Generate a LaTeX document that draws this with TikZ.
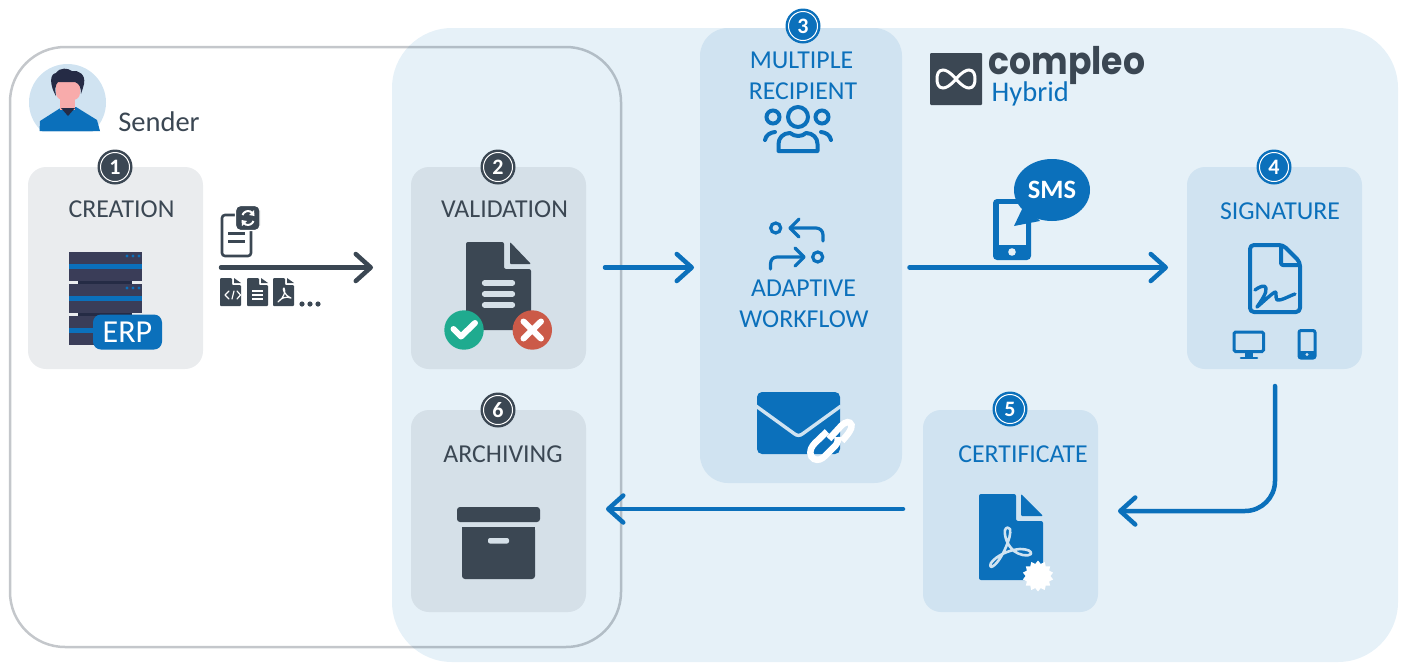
\documentclass[tikz,border=0pt]{standalone}
\usepackage{fontspec}
\setmainfont{Carlito}
\newfontfamily\logofont{Poppins}
\newfontfamily\hybfont{Carlito}
\usetikzlibrary{arrows.meta,shapes.geometric}
\definecolor{bgblue}{HTML}{E6F1F8}
\definecolor{panelblue}{HTML}{D0E3F1}
\definecolor{panelgrey}{HTML}{EAECEE}
\definecolor{paneldark}{HTML}{D5E0E8}
\definecolor{inkdark}{HTML}{3B4753}
\definecolor{inkblue}{HTML}{0B70BB}
\definecolor{servercol}{HTML}{3A3D58}
\definecolor{hair}{HTML}{252B45}
\definecolor{skin}{HTML}{F8ABAB}
\definecolor{okgreen}{HTML}{1FAB8F}
\definecolor{badred}{HTML}{CB5A48}
\tikzset{
  panel/.style={rounded corners=18pt,inner sep=0pt,draw=none,minimum width=175pt,minimum height=202pt},
  lbl/.style={inner sep=0pt,font=\fontsize{25.8}{30}\selectfont},
  flow/.style={line width=4.5pt,line cap=round,-{Straight Barb[length=15pt,width=27pt,round,line width=4.5pt]}},
  stroke/.style={line cap=round,line join=round},
  badgeouter/.style={circle,minimum size=35pt,inner sep=0pt,text=white,font=\fontsize{22}{24}\selectfont\bfseries},
  ring/.style={draw=white,line width=1pt}
}
\newcommand{\badge}[5]{% name, x, y, colour, digit
  \node[badgeouter,fill=#4] (#1) at (#2,#3) {#5};
  \draw[ring] (#2,#3) circle[radius=14.5];
}
\begin{document}
\begin{tikzpicture}[x=1pt,y=-1pt]
\useasboundingbox (0,0) rectangle (1401,662);
% backgrounds
\fill[bgblue,rounded corners=60pt] (392,28) rectangle (1398,662);
\draw[inkdark,opacity=.3,line width=2.5pt,rounded corners=55pt] (10,47) rectangle (621,647);
% panels
\node[panel,fill=panelgrey] (creation) at (115.5,268) {};
\node[panel,fill=paneldark] (validation) at (498.5,268) {};
\node[panel,fill=paneldark] (archiving) at (498.5,511) {};
\node[panel,fill=panelblue] (signature) at (1274.5,268) {};
\node[panel,fill=panelblue] (certificate) at (1010.5,511) {};
\node[panel,fill=panelblue,minimum width=202pt,minimum height=455pt,rounded corners=28pt] (multi) at (801,255.5) {};
% badges
\badge{b1}{115}{167}{inkdark}{1}
\badge{b2}{498}{167}{inkdark}{2}
\badge{b3}{803}{26}{inkblue}{3}
\badge{b4}{1274}{167}{inkblue}{4}
\badge{b5}{1010}{409}{inkblue}{5}
\badge{b6}{498}{410}{inkdark}{6}
% labels
\node[lbl,text=inkdark] (tcreation) at (121.5,209) {CREATION};
\node[lbl,text=inkdark] (tvalid) at (504.5,209) {VALIDATION};
\node[lbl,text=inkdark] (tarch) at (503,454) {ARCHIVING};
\node[lbl,text=inkblue] (tsign) at (1280,211) {SIGNATURE};
\node[lbl,text=inkblue] (tcert) at (1023,454) {CERTIFICATE};
\node[lbl,text=inkblue] (tmult) at (801.5,60) {MULTIPLE};
\node[lbl,text=inkblue] (trec) at (803,91) {RECIPIENT};
\node[lbl,text=inkblue] (tadap) at (803.5,288) {ADAPTIVE};
\node[lbl,text=inkblue] (twork) at (804,319) {WORKFLOW};
\node[lbl,text=inkdark,font=\fontsize{28.5}{32}\selectfont] (tsender) at (159,122) {Sender};
% person
\begin{scope}
\clip (20,55) rectangle (115,131);
\fill[panelblue] (67.5,102.5) circle[radius=38.5];
\fill[inkblue] (39.5,131) -- (40,121) -- (62,107) -- (76,107) -- (97,120) -- (100,131) -- cycle;
\fill[skin] (60,92) rectangle (75,110);
\fill[hair] (61,108) -- (68,116) -- (75,108) -- cycle;
\fill[skin,rounded corners=7pt] (56,78) rectangle (80,100);
\fill[hair] (56,96) .. controls (50,86) and (49,74) .. (56,73) .. controls (60,67) and (68,68) .. (72,71) .. controls (78,70) and (86,74) .. (84,84) .. controls (83,88) and (82,91) .. (81,94) .. controls (81,88) and (80,84) .. (75,82) -- (58,82) .. controls (55,85) and (55,90) .. (56,96) -- cycle;
\end{scope}
% ERP server
\foreach \yy in {252,284,316}{
  \fill[servercol] (69,\yy) rectangle (142,\yy+29);
  \fill[inkblue] (69,\yy+12) rectangle (142,\yy+17);
}
\fill[hair] (78,281) rectangle (132,284);
\fill[hair] (78,313) rectangle (132,316);
\foreach \yy in {256,288}{\foreach \xx in {127,133,139}{\fill[inkblue] (\xx,\yy) circle[radius=1.6];}}
\node[fill=inkblue,rounded corners=8pt,minimum width=69pt,minimum height=35pt,inner sep=0pt,text=white,font=\fontsize{32}{34}\selectfont] (erp) at (127.5,332) {ERP};
% document with refresh
\draw[inkdark,line width=2.6pt,rounded corners=3pt] (222,215) rectangle (251,256);
\draw[inkdark,line width=3pt] (228,233) -- (245,233) (228,241) -- (245,241);
\fill[inkdark,rounded corners=5pt,draw=white,line width=1.2pt] (235.5,205.5) rectangle (260,230.5);
\draw[white,line width=2pt] (242.5,215) arc[start angle=-160,end angle=-40,radius=6];
\draw[white,line width=2pt] (253.5,221) arc[start angle=20,end angle=140,radius=6];
\fill[white] (254,210) -- (254.5,216) -- (249,215) -- cycle;
\fill[white] (242,226) -- (241.5,220) -- (247,221) -- cycle;
% small file icons
\foreach \xx in {220,247,273}{
  \fill[inkdark,rounded corners=1pt] (\xx,278) -- (\xx+12,278) -- (\xx+12,285) -- (\xx+21,285) -- (\xx+21,306) -- (\xx,306) -- cycle;
  \fill[inkdark] (\xx+14,278) -- (\xx+21,283) -- (\xx+14,283) -- cycle;
}
\draw[white,line width=1.2pt,stroke] (229,291) -- (225,295) -- (229,299) (232,299) -- (234,291) (237,291) -- (240.5,295) -- (237,299);
\draw[white,line width=1.3pt] (252,291) -- (263,291) (252,295) -- (263,295) (252,299) -- (263,299);
\draw[white,line width=1.2pt,stroke] (278,302) .. controls (284,298) and (286,291) .. (284,288) .. controls (282,288) and (284,295) .. (291,298) .. controls (286,296) and (281,298) .. cycle;
\foreach \xx in {302,310,318}{\fill[inkdark] (\xx,304) circle[radius=2.6];}
% validation icon
\fill[inkdark,rounded corners=2pt] (466,242) -- (504,242) -- (504,269) -- (531,269) -- (531,330) -- (466,330) -- cycle;
\fill[inkdark,rounded corners=1pt] (510,242) -- (531,264) -- (510,264) -- cycle;
\foreach \yy in {283,294,305}{\draw[paneldark,line width=5.3pt,line cap=round] (484.5,\yy) -- (512.5,\yy);}
\fill[okgreen] (464,330) circle[radius=19.7];
\fill[badred] (532.3,330) circle[radius=19.7];
\draw[white,line width=6pt,stroke] (453.5,329) -- (461,336.5) -- (475,323);
\draw[white,line width=6pt,stroke] (523.5,321.5) -- (541,338.5) (541,321.5) -- (523.5,338.5);
% archive icon
\fill[inkdark,rounded corners=3pt] (457,507) rectangle (540,522);
\fill[inkdark,rounded corners=3pt] (462,527) -- (535,527) -- (535,579) -- (462,579) -- cycle;
\fill[inkdark] (462,527) rectangle (535,535);
\fill[paneldark,rounded corners=2pt] (488,538) rectangle (509,543.5);
% people icon
\draw[inkblue,line width=4pt] (798,117) circle[radius=10];
\draw[inkblue,line width=4pt] (773,117) circle[radius=6.5];
\draw[inkblue,line width=4pt] (822,117) circle[radius=6.5];
\draw[inkblue,line width=4pt,stroke] (778.5,151) -- (778.5,144) .. controls (778.5,138) and (783,133) .. (790,133) .. controls (795,137) and (802,137) .. (806,133) .. controls (813,133) and (817.5,138) .. (817.5,144) -- (817.5,151) -- cycle;
\draw[inkblue,line width=4pt,stroke] (765,140) .. controls (766,135) and (770,132.5) .. (775,132);
\draw[inkblue,line width=4pt,stroke] (831,140) .. controls (830,135) and (826,132.5) .. (821,132);
% workflow icon
\draw[inkblue,line width=3.2pt] (775.7,228) circle[radius=5];
\draw[inkblue,line width=3.2pt] (817.7,257) circle[radius=5];
\draw[inkblue,line width=3.2pt,stroke] (823,241) -- (823,235) .. controls (823,231) and (820,228) .. (816,228) -- (790,228);
\draw[inkblue,line width=3.2pt,stroke] (799,219) -- (790,228) -- (799,237);
\draw[inkblue,line width=3.2pt,stroke] (770.5,269) -- (770.5,264) .. controls (770.5,260) and (773,257) .. (777,257) -- (804,257);
\draw[inkblue,line width=3.2pt,stroke] (795,248) -- (804,257) -- (795,266);
% mail with link
\fill[inkblue,rounded corners=5pt] (757,392) rectangle (840,454);
\draw[panelblue,line width=3.4pt,line join=round] (756,406) -- (794,433.5) .. controls (797,436) and (800,436) .. (803,433.5) -- (841,406);
\draw[white,line width=6.5pt] (827,431.5) -- (815,443) .. controls (808,450) and (810,457) .. (814,459) .. controls (818,461) and (822,459) .. (825,456) -- (835,446) .. controls (838,443) and (838,440) .. (837.5,437);
\draw[white,line width=6.5pt] (829,439) -- (841,426) .. controls (846,421) and (850,421) .. (851.5,425) .. controls (852,429) and (849,433) .. (842,441);
% logo
\node[fill=inkdark,minimum size=52pt,inner sep=0pt,rounded corners=1pt] (logobox) at (956,79) {};
\draw[white,line width=3pt] (956,79) .. controls (962,72) and (966,70) .. (969,70) .. controls (974,70) and (975,75) .. (975,79) .. controls (975,83) and (974,88) .. (969,88) .. controls (966,88) and (962,86) .. (956,79) .. controls (950,72) and (946,70) .. (943,70) .. controls (938,70) and (937,75) .. (937,79) .. controls (937,83) and (938,88) .. (943,88) .. controls (946,88) and (950,86) .. (956,79) -- cycle;
\node[inner sep=0pt,anchor=base west,text=inkdark,font=\logofont\bfseries\fontsize{38}{40}\selectfont] (logotext) at (988.5,74) {\scalebox{.91}[1]{compleo}};
\node[inner sep=0pt,anchor=base west,text=inkblue,font=\hybfont\fontsize{28.5}{32}\selectfont] (logohyb) at (991.5,101.5) {Hybrid};
% sms phone
\fill[inkblue,rounded corners=4pt] (993,199) rectangle (1031,260);
\fill[bgblue] (999,204) rectangle (1026,245);
\fill[bgblue] (1012,252) circle[radius=3.8];
\fill[inkblue] (1052,190) ellipse[x radius=38,y radius=31];
\fill[inkblue] (1024,205) -- (1014,226) -- (1040,221) -- cycle;
\node[inner sep=0pt,text=white,font=\fontsize{26.5}{28}\selectfont\bfseries] (sms) at (1052,190) {SMS};
% signature icon
\draw[inkblue,line width=4pt,line join=round,rounded corners=4pt] (1250,245) -- (1283,245) -- (1300,262) -- (1300,312) -- (1250,312) -- cycle;
\draw[inkblue,line width=4pt,line join=round,rounded corners=2pt] (1281,246) -- (1281,265) -- (1299,265);
\draw[inkblue,line width=3.4pt,stroke] (1255,290) .. controls (1259,287) and (1265,284) .. (1266,288) .. controls (1267,293) and (1261,301) .. (1257,307) .. controls (1262,303) and (1270,295) .. (1275,292) .. controls (1277,291) and (1275,297) .. (1277,300) .. controls (1281,301) and (1289,296) .. (1295,294);
\draw[inkblue,line width=3pt,rounded corners=1.5pt] (1234,332) rectangle (1263.5,351.5);
\fill[inkblue] (1245,352) rectangle (1253,357);
\draw[inkblue,line width=2.6pt,line cap=round] (1241,358) -- (1257,358);
\draw[inkblue,line width=3pt,rounded corners=2pt] (1299,330.5) rectangle (1315,358);
\fill[inkblue] (1299,351) rectangle (1315,358);
\fill[panelblue] (1307,354.5) circle[radius=1.6];
% certificate icon
\fill[inkblue,rounded corners=2pt] (979,494) -- (1016,494) -- (1016,521) -- (1043,521) -- (1043,580) -- (979,580) -- cycle;
\fill[inkblue,rounded corners=1pt] (1021,494) -- (1043,516) -- (1021,516) -- cycle;
\draw[panelblue,line width=2.6pt,stroke] (991,567) .. controls (996,566) and (1002,556) .. (1006,547) .. controls (1009,540) and (1011,533) .. (1010,529) .. controls (1009,527) and (1006,527) .. (1005,530) .. controls (1004,537) and (1008,546) .. (1014,551) .. controls (1019,555) and (1028,557) .. (1031,554) .. controls (1032,551) and (1027,549) .. (1020,549) .. controls (1008,550) and (996,556) .. (991,563) .. controls (990,565) and (990,566) .. (991,567) -- cycle;
\node[star,star points=14,star point ratio=1.25,fill=white,minimum size=31pt,inner sep=0pt] (seal) at (1038,576) {};
% connectors
\coordinate (a1s) at (221,267.5); \coordinate (a1e) at (373,267.5);
\coordinate (a2s) at (605,267.5); \coordinate (a2e) at (694,267.5);
\coordinate (a3s) at (909.5,267.5); \coordinate (a3e) at (1168,267.5);
\coordinate (a4s) at (1275,386); \coordinate (a4c) at (1275,511); \coordinate (a4e) at (1118,511);
\coordinate (a5s) at (903,509); \coordinate (a5e) at (606,509);
\draw[flow,draw=inkdark] (a1s) -- (a1e);
\draw[flow,draw=inkblue] (a2s) -- (a2e);
\draw[flow,draw=inkblue] (a3s) -- (a3e);
\draw[flow,draw=inkblue,rounded corners=30pt] (a4s) -- (a4c) -- (a4e);
\draw[flow,draw=inkblue] (a5s) -- (a5e);
\end{tikzpicture}
\end{document}
